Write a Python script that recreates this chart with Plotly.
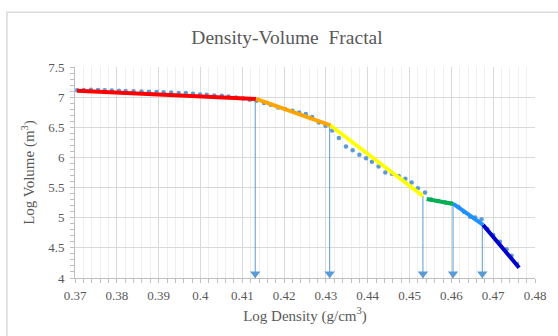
import plotly.graph_objects as go

# Measured points: log density vs log volume
log_density = [
    0.3705, 0.3721, 0.3738, 0.3755, 0.3771, 0.3788, 0.3805, 0.3821, 0.3840, 0.3859,
    0.3877, 0.3895, 0.3912, 0.3930, 0.3948, 0.3965, 0.3982, 0.3999, 0.4015, 0.4033,
    0.4051, 0.4067, 0.4085, 0.4102, 0.4118, 0.4134, 0.4152, 0.4168, 0.4186, 0.4202,
    0.4220, 0.4236, 0.4252, 0.4267, 0.4283, 0.4299, 0.4315, 0.4331, 0.4348, 0.4364,
    0.4380, 0.4396, 0.4410, 0.4426, 0.4442, 0.4458, 0.4474, 0.4490, 0.4505, 0.4520,
    0.4537, 0.4552, 0.4569, 0.4586, 0.4600, 0.4617, 0.4631, 0.4645, 0.4657, 0.4672,
    0.4686, 0.4700, 0.4716, 0.4732, 0.4744, 0.4757,
]
log_volume = [
    7.115, 7.118, 7.123, 7.118, 7.115, 7.110, 7.106, 7.103, 7.098, 7.093,
    7.090, 7.086, 7.081, 7.076, 7.070, 7.068, 7.056, 7.045, 7.040, 7.028,
    7.023, 7.012, 6.995, 6.978, 6.957, 6.940, 6.902, 6.874, 6.829, 6.802,
    6.774, 6.746, 6.719, 6.669, 6.580, 6.525, 6.447, 6.321, 6.181, 6.118,
    6.043, 5.985, 5.927, 5.849, 5.749, 5.728, 5.694, 5.645, 5.583, 5.490,
    5.417, 5.304, 5.279, 5.254, 5.238, 5.179, 5.096, 5.018, 5.005, 4.975,
    4.814, 4.714, 4.603, 4.477, 4.370, 4.233,
]

# Fitted fractal segments (start/end points) and their colours
seg_x0 = [0.3705, 0.4133, 0.4311, 0.4541, 0.4605, 0.4676]
seg_y0 = [7.106, 6.970, 6.530, 5.310, 5.229, 4.880]
seg_x1 = [0.4133, 0.4311, 0.4532, 0.4605, 0.4676, 0.4762]
seg_y1 = [6.970, 6.530, 5.360, 5.229, 4.880, 4.171]
seg_colors = ["#FF0000", "#FFA500", "#FFFF00", "#00B050", "#1E90FF", "#0000CD"]

# Breakpoints marked with downward arrows
break_x = [0.4131, 0.4309, 0.4532, 0.4604, 0.4674]
break_y = [6.970, 6.530, 5.360, 5.229, 4.880]
arrow_end = 4.0
arrow_head = 4.07

x_ticks = [0.37, 0.38, 0.39, 0.40, 0.41, 0.42, 0.43, 0.44, 0.45, 0.46, 0.47, 0.48]
x_labels = ["0.37", "0.38", "0.39", "0.4", "0.41", "0.42", "0.43", "0.44", "0.45", "0.46", "0.47", "0.48"]
y_ticks = [4, 4.5, 5, 5.5, 6, 6.5, 7, 7.5]
y_labels = ["4", "4.5", "5", "5.5", "6", "6.5", "7", "7.5"]

TEXT = "#595959"
FONT = "Liberation Serif"
ARROW = "#5B9BD5"

fig = go.Figure()

fig.add_trace(go.Scatter(
    x=log_density, y=log_volume, mode="markers",
    marker=dict(color="#5B9BD5", size=4.5), showlegend=False,
))

for bx, by in zip(break_x, break_y):
    fig.add_trace(go.Scatter(
        x=[bx, bx], y=[by, arrow_end], mode="lines",
        line=dict(color=ARROW, width=1), showlegend=False,
    ))
fig.add_trace(go.Scatter(
    x=break_x, y=[arrow_head] * len(break_x), mode="markers",
    marker=dict(symbol="triangle-down", color=ARROW, size=9),
    cliponaxis=False, showlegend=False,
))

for x0, y0, x1, y1, c in zip(seg_x0, seg_y0, seg_x1, seg_y1, seg_colors):
    fig.add_trace(go.Scatter(
        x=[x0, x1], y=[y0, y1], mode="lines",
        line=dict(color=c, width=4), showlegend=False,
    ))

axis_common = dict(
    showgrid=True, gridcolor="#D9D9D9", gridwidth=1,
    showline=True, linecolor="#BFBFBF", linewidth=1,
    zeroline=False, ticks="", tickfont=dict(family=FONT, size=13, color=TEXT),
)

fig.update_xaxes(
    range=[0.37, 0.48], tickvals=x_ticks, ticktext=x_labels,
    ticklabelstandoff=5,
    minor=dict(dtick=0.002, tick0=0.37, showgrid=True, gridcolor="#EFEFEF",
               ticks="outside", ticklen=4, tickcolor="#BFBFBF"),
    title=dict(text="Log Density (g/cm<sup>3</sup>)",
               font=dict(family=FONT, size=15, color=TEXT), standoff=8),
    **axis_common,
)
fig.update_yaxes(
    range=[4, 7.5], tickvals=y_ticks, ticktext=y_labels,
    ticklabelstandoff=7,
    minor=dict(dtick=0.1, tick0=4, showgrid=False,
               ticks="outside", ticklen=4, tickcolor="#BFBFBF"),
    title=dict(text="Log Volume (m<sup>3</sup>)",
               font=dict(family=FONT, size=15, color=TEXT), standoff=9),
    **axis_common,
)

fig.update_layout(
    width=558, height=336,
    margin=dict(l=75, r=21, t=67, b=58),
    paper_bgcolor="white", plot_bgcolor="white",
    title=dict(text="Density-Volume\u00a0 Fractal", x=287 / 558, xanchor="center",
               y=1 - 37 / 336, yanchor="middle",
               font=dict(family=FONT, size=19.5, color=TEXT)),
    shapes=[dict(type="rect", xref="paper", yref="paper",
                 x0=-0.148, x1=1.1, y0=-0.4, y1=1.26,
                 line=dict(color="#D9D9D9", width=1.5), fillcolor="rgba(0,0,0,0)",
                 layer="below")],
)

fig.write_html("out.html")
